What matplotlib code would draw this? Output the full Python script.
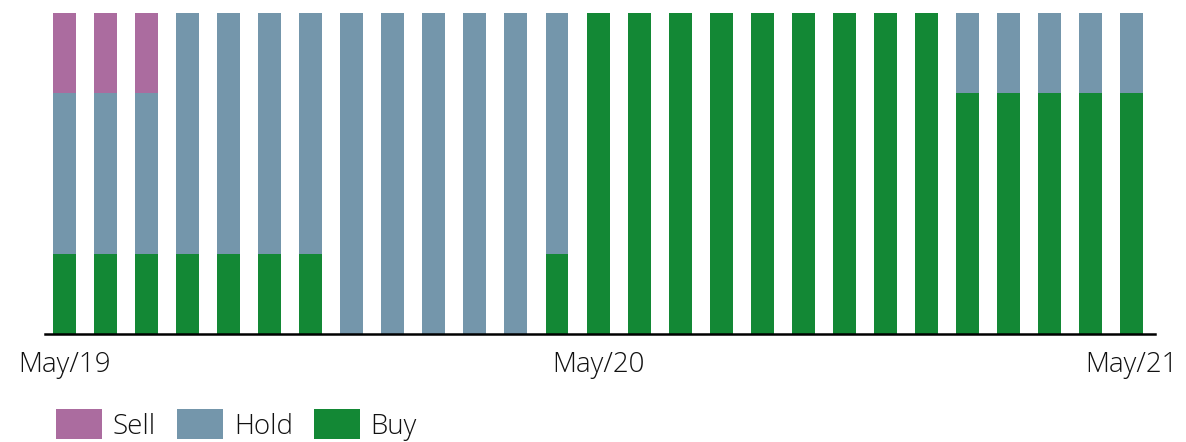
import matplotlib
matplotlib.use("Agg")
import matplotlib.pyplot as plt
import numpy as np

plt.rcParams["font.family"] = ["Open Sans", "DejaVu Sans"]

# share of analyst recommendations (%), one bar per period
sell = [25, 25, 25, 0, 0, 0, 0, 0, 0, 0, 0, 0, 0,
        0, 0, 0, 0, 0, 0, 0, 0, 0, 0, 0, 0, 0, 0]
hold = [50, 50, 50, 75, 75, 75, 75, 100, 100, 100, 100, 100, 75,
        0, 0, 0, 0, 0, 0, 0, 0, 0, 25, 25, 25, 25, 25]
buy = [25, 25, 25, 25, 25, 25, 25, 0, 0, 0, 0, 0, 25,
       100, 100, 100, 100, 100, 100, 100, 100, 100, 75, 75, 75, 75, 75]
tick_pos = [0, 13, 26]
tick_labels = ["May/19", "May/20", "May/21"]

colors = {"Sell": "#AB6C9F", "Hold": "#7496AB", "Buy": "#138835"}
FS = 20

fig = plt.figure(figsize=(11.86, 4.42), dpi=100)
ax = fig.add_axes([45 / 1186, 108 / 442, 1110 / 1186, 321 / 442])

x = np.arange(len(buy))
w = 0.56
ax.bar(x, buy, w, color=colors["Buy"], label="Buy")
ax.bar(x, hold, w, bottom=buy, color=colors["Hold"], label="Hold")
ax.bar(x, sell, w, bottom=np.array(buy) + np.array(hold), color=colors["Sell"], label="Sell")

ax.set_xlim(-0.475, 26.57)
ax.set_ylim(0, 100)
for s in ("top", "right", "left"):
    ax.spines[s].set_visible(False)
ax.spines["bottom"].set_linewidth(1.8)
ax.set_yticks([])
ax.set_xticks(tick_pos, labels=tick_labels, fontsize=FS, color="#111111", fontweight="light")
ax.tick_params(axis="x", length=0, pad=12.5)

handles, labels = ax.get_legend_handles_labels()
fig.legend(handles[::-1], labels[::-1], ncol=3, loc="center left",
           bbox_to_anchor=(56 / 1186, 17 / 442), frameon=False,
           borderaxespad=0, borderpad=0,
           prop={"size": FS, "weight": "light"}, handlelength=1.65, handleheight=1.28,
           handletextpad=0.4, columnspacing=0.75, labelcolor="#111111")

fig.savefig("out.png", dpi=100)
